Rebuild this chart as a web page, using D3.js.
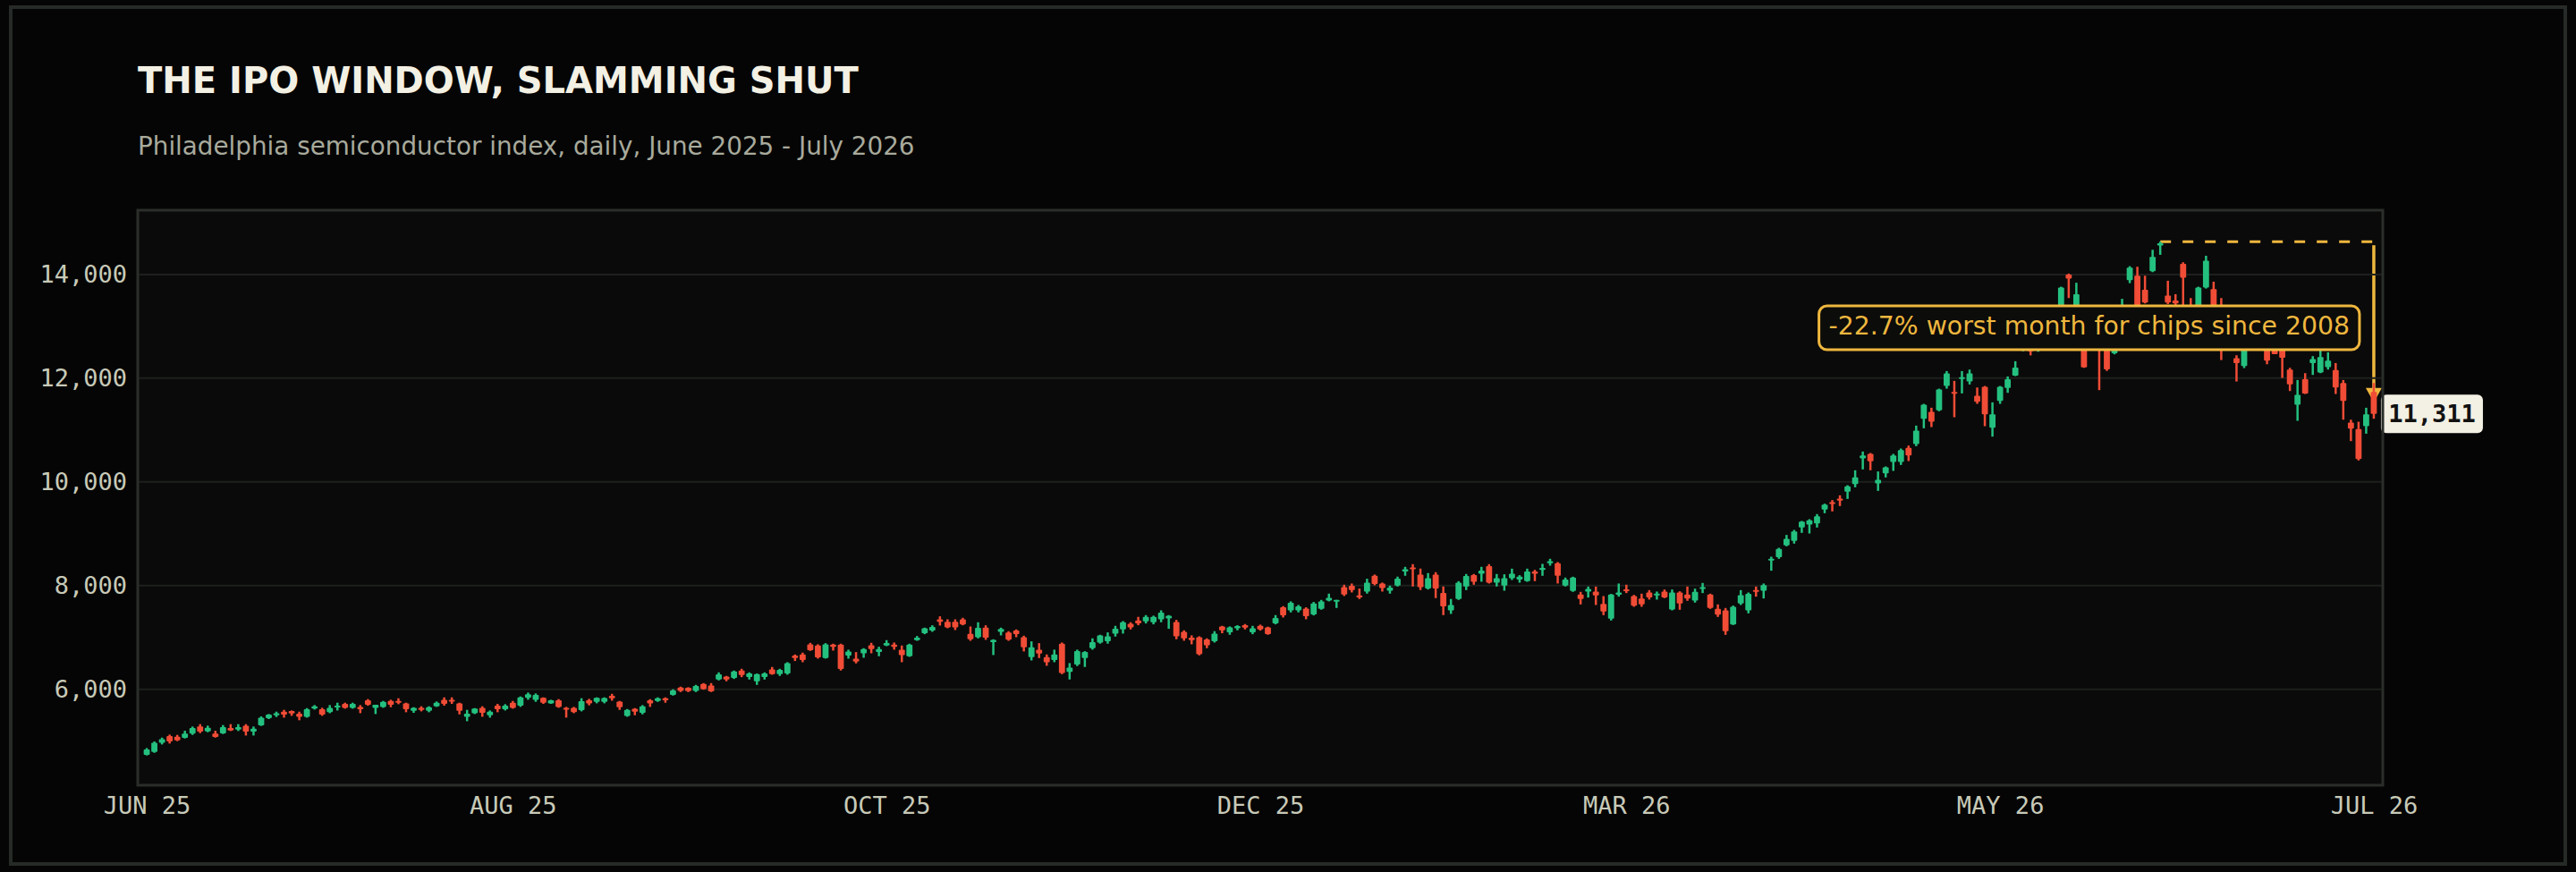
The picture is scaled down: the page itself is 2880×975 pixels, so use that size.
<!DOCTYPE html>
<html>
<head>
<meta charset="utf-8">
<script src="https://cdn.jsdelivr.net/npm/d3@7"></script>
<style>
  html, body { margin: 0; padding: 0; background: #050505; }
  svg { display: block; }
</style>
</head>
<body>
<div id="chart"></div>
<script>
// ---- DATA (one candle per trading day) ----
const openV = [
  4735,4793,4971,5098,5087,5063,5144,5282,5190,5144,
  5149,5253,5224,5299,5184,5305,5443,5500,5569,5581,
  5529,5471,5627,5615,5558,5650,5719,5644,5661,5788,
  5644,5661,5776,5776,5730,5586,5644,5586,5673,5799,
  5799,5730,5471,5540,5644,5500,5684,5615,5742,5684,
  5834,5799,5834,5730,5788,5644,5644,5598,5788,5759,
  5758,5873,5764,5488,5626,5546,5787,5776,5827,5891,
  6034,6028,5971,6103,6074,6189,6247,6218,6362,6235,
  6155,6235,6385,6293,6304,6649,6672,6868,6845,6603,
  6862,6862,6649,6592,6695,6850,6718,6845,6862,6764,
  6638,6948,7080,7132,7350,7304,7304,7350,7069,7005,
  7189,6908,7109,7097,7132,7005,6620,6764,6620,6563,
  6880,6334,6477,6604,6793,6902,6926,7075,7155,7264,
  7328,7310,7293,7351,7368,7299,7109,6994,7006,6960,
  6926,7213,7098,7178,7236,7098,7224,7196,7270,7581,
  7523,7523,7558,7443,7552,7713,7696,7971,7994,7811,
  7885,8190,8040,7902,7999,8270,8351,8213,7943,8213,
  7857,7523,7742,7983,8201,8230,8374,8058,8000,8143,
  8115,8086,8270,8304,8431,8431,8000,7896,7827,7885,
  7885,7649,7362,7822,7925,7798,7752,7867,7810,7885,
  7540,7867,7827,7712,7936,7827,7551,7523,7252,7655,
  7523,7913,7902,8488,8546,8775,8862,9120,9178,9201,
  9465,9609,9678,9810,9959,10454,10540,9971,10166,10385,
  10385,10655,10729,11218,11350,11379,11850,11735,11994,11936,
  11660,11833,11045,11563,11810,12051,12560,12950,12560,12950,
  13250,13100,14000,13350,12750,12620,13000,12700,12480,12950,
  13890,13976,13706,14062,14560,13591,13499,14206,13350,13200,
  13746,13718,13200,12900,12384,12235,12800,12650,12800,12700,
  12650,12166,11488,11982,12292,12109,12212,12155,11908,11143,
  11017,11074,11735
];
const highV = [
  4867,4994,5069,5127,5121,5201,5282,5328,5299,5201,
  5311,5328,5328,5328,5282,5477,5523,5569,5604,5592,
  5569,5638,5696,5644,5696,5742,5742,5742,5696,5811,
  5701,5776,5799,5828,5742,5655,5673,5673,5765,5845,
  5845,5742,5604,5638,5673,5592,5719,5713,5776,5862,
  5937,5920,5845,5799,5811,5661,5661,5828,5817,5845,
  5845,5913,5776,5620,5638,5695,5810,5845,5845,6000,
  6051,6040,6086,6120,6120,6327,6258,6362,6396,6327,
  6304,6327,6431,6396,6523,6672,6707,6896,6868,6890,
  6879,6879,6764,6718,6793,6896,6821,6948,6902,6844,
  6879,7028,7189,7235,7408,7350,7350,7379,7212,7293,
  7235,6965,7189,7120,7155,7034,6925,6890,6672,6765,
  6902,6506,6765,6736,6983,7052,7098,7224,7316,7293,
  7397,7431,7420,7523,7431,7339,7138,7040,7023,6983,
  7121,7224,7213,7236,7259,7224,7247,7207,7431,7604,
  7696,7627,7581,7684,7724,7845,7724,8017,8040,7943,
  8132,8213,8058,7999,8173,8362,8414,8328,8242,8259,
  7983,7742,8086,8224,8224,8362,8414,8224,8218,8327,
  8201,8327,8304,8419,8517,8454,8155,8172,7879,7982,
  7982,7798,7839,8040,8017,7821,7844,7913,7885,7925,
  7925,7890,7982,7942,8051,7844,7638,7569,7615,7913,
  7867,7982,8040,8557,8729,8977,9074,9247,9281,9379,
  9580,9649,9741,9936,10224,10586,10557,10201,10298,10540,
  10643,10701,11086,11505,11430,11798,12137,11948,12137,12166,
  11821,11850,11534,11850,12034,12327,13000,13050,13100,13300,
  13350,13764,14017,13840,12850,13100,13150,12800,13000,13530,
  14160,14149,13976,14476,14633,13879,13620,14235,13545,13764,
  14361,13861,13545,13050,12442,12850,12950,13100,12900,12800,
  12750,12200,11965,12097,12425,12540,12499,12292,11965,11200,
  11160,11430,11907
];
const lowV = [
  4724,4776,4937,4954,5000,5052,5121,5155,5173,5069,
  5138,5196,5196,5109,5109,5293,5426,5466,5454,5489,
  5403,5454,5610,5489,5540,5592,5627,5627,5540,5684,
  5523,5644,5655,5713,5558,5546,5575,5558,5661,5684,
  5719,5517,5385,5523,5471,5454,5558,5592,5627,5661,
  5799,5759,5719,5719,5644,5454,5540,5575,5690,5730,
  5730,5781,5603,5471,5500,5517,5661,5758,5741,5879,
  5948,5948,5948,5994,5948,6172,6155,6201,6235,6189,
  6086,6189,6281,6258,6281,6546,6523,6741,6592,6592,
  6747,6362,6592,6500,6609,6695,6638,6833,6764,6523,
  6626,6936,7063,7109,7230,7178,7143,7235,6936,6982,
  6954,6661,7040,6936,7005,6730,6557,6603,6454,6523,
  6293,6190,6448,6431,6765,6880,6880,7017,7075,7155,
  7236,7270,7253,7293,7167,6966,6937,6868,6655,6793,
  6902,7081,7052,7138,7155,7063,7132,7052,7253,7385,
  7483,7483,7351,7425,7535,7696,7569,7799,7868,7742,
  7845,8006,7885,7845,7983,8190,7983,7914,7925,7759,
  7431,7454,7724,7914,8017,8075,8040,7983,7902,8109,
  8057,8074,8086,8189,8385,8040,7983,7879,7637,7770,
  7626,7431,7327,7787,7856,7592,7592,7730,7730,7758,
  7523,7534,7707,7672,7856,7551,7396,7051,7241,7626,
  7465,7787,7752,8287,8517,8758,8810,9017,9005,9120,
  9396,9431,9534,9672,9896,10241,10224,9827,10086,10212,
  10327,10402,10689,11034,11057,11362,11798,11247,11706,11879,
  11505,11074,10873,11505,11718,12040,12520,12440,12510,12850,
  12950,13000,13545,13250,12200,12580,11770,12140,12460,12850,
  13833,13100,13442,14045,14379,13430,13350,13300,12950,13100,
  13729,13050,12350,12600,11936,12195,12600,12600,12269,12465,
  12005,11752,11178,11695,12063,12097,12166,11695,11200,10787,
  10413,10930,11218
];
const closeV = [
  4839,4971,5040,4994,5017,5144,5253,5184,5259,5081,
  5270,5207,5270,5184,5242,5454,5512,5540,5512,5535,
  5471,5615,5673,5512,5644,5684,5644,5719,5615,5701,
  5701,5759,5701,5742,5615,5644,5604,5655,5742,5719,
  5776,5586,5529,5627,5546,5569,5615,5684,5644,5845,
  5903,5891,5742,5788,5661,5627,5558,5770,5730,5834,
  5833,5827,5655,5603,5569,5672,5730,5827,5787,5977,
  5971,5965,6063,6005,5959,6287,6189,6345,6276,6304,
  6293,6304,6293,6373,6505,6603,6563,6753,6615,6868,
  6821,6390,6730,6534,6775,6775,6775,6891,6821,6661,
  6862,6994,7178,7201,7304,7195,7195,7252,6965,7184,
  6994,6954,7166,6959,7063,6810,6810,6689,6523,6673,
  6316,6420,6736,6719,6908,7040,7023,7167,7293,7196,
  7270,7397,7397,7477,7420,7023,6983,6948,6678,6851,
  7075,7138,7196,7219,7190,7178,7155,7063,7374,7425,
  7667,7598,7408,7655,7696,7765,7724,7828,7914,7770,
  8058,8029,7954,7960,8132,8316,8328,7971,8144,7943,
  7598,7627,8058,8184,8075,8288,8058,8144,8143,8230,
  8172,8270,8230,8339,8471,8189,8115,8155,7741,7936,
  7810,7500,7827,7867,7902,7614,7638,7770,7844,7770,
  7867,7655,7752,7879,7971,7569,7442,7120,7592,7816,
  7839,7896,8011,8517,8706,8902,9046,9235,9258,9339,
  9563,9592,9638,9913,10086,10511,10396,10040,10281,10511,
  10614,10511,10988,11488,11160,11781,12091,11718,12017,12091,
  11545,11304,11304,11833,11982,12206,12900,12520,12980,13200,
  13050,13746,13919,13620,12210,12950,12650,12170,12900,13300,
  14132,13250,13459,14338,14600,13459,13442,13936,13100,13746,
  14264,13150,12900,12700,12292,12750,12650,12950,12338,12465,
  12396,11879,11678,11706,12367,12407,12338,11821,11563,11028,
  10442,11304,11311
];

// x axis: labelled candle positions
const tickIdx = [0, 48, 97, 146, 194, 243, 292];
const tickLabels = ["JUN 25", "AUG 25", "OCT 25", "DEC 25", "MAR 26", "MAY 26", "JUL 26"];
const yTicks = [6000, 8000, 10000, 12000, 14000];

const titleText = "THE IPO WINDOW, SLAMMING SHUT";
const subtitleText = "Philadelphia semiconductor index, daily, June 2025 - July 2026";
const noteText = "-22.7% worst month for chips since 2008";

// ---- LAYOUT ----
const W = 2880, H = 975;
const plot = {left: 154, right: 2664, top: 235, bottom: 878};
const UP = "#24c07f", DOWN = "#f04c36", GOLD = "#efb73e";
const mono = "'DejaVu Sans Mono', monospace";
const sans = "'DejaVu Sans', sans-serif";

const candles = closeV.map((c, i) => ({i, o: openV[i], h: highV[i], l: lowV[i], c}));
const n = candles.length;

const svg = d3.select("#chart").append("svg")
    .attr("width", W).attr("height", H)
    .attr("viewBox", `0 0 ${W} ${H}`);

// khung ngoài
svg.append("rect")
    .attr("x", 12).attr("y", 8).attr("width", W - 24).attr("height", 958)
    .attr("fill", "#050505").attr("stroke", "#272b27").attr("stroke-width", 4);

// tiêu đề
svg.append("text").attr("x", plot.left).attr("y", 104)
    .attr("font-family", sans).attr("font-weight", "bold").attr("font-size", 40)
    .attr("fill", "#f3f0e4").text(titleText);
svg.append("text").attr("x", plot.left).attr("y", 173)
    .attr("font-family", sans).attr("font-size", 27.8)
    .attr("fill", "#a8aa9c").text(subtitleText);

// ---- SCALES ----
const x = d3.scalePoint().domain(d3.range(n)).range([plot.left, plot.right]).padding(1.18);
const step = x.step();
const bodyW = step * 0.8;
const y = d3.scaleLinear().domain([4150, 15240]).range([plot.bottom, plot.top]);

// nền vùng vẽ
svg.append("rect")
    .attr("x", plot.left).attr("y", plot.top)
    .attr("width", plot.right - plot.left).attr("height", plot.bottom - plot.top)
    .attr("fill", "#0a0a0a");

// ---- ANNOTATION LINES (peak -> last close) ----
const peakI = d3.maxIndex(highV);
const peak = highV[peakI];
const last = candles[n - 1];
const lx = x(last.i);

const ann = svg.append("g");
ann.append("line")
    .attr("x1", x(peakI)).attr("x2", lx)
    .attr("y1", y(peak)).attr("y2", y(peak))
    .attr("stroke", GOLD).attr("stroke-width", 3).attr("stroke-dasharray", "12,13");
ann.append("line")
    .attr("x1", lx).attr("x2", lx)
    .attr("y1", y(peak) + 4).attr("y2", y(last.c) - 26)
    .attr("stroke", GOLD).attr("stroke-width", 3.5);
ann.append("path")
    .attr("d", `M${lx - 9},${y(last.c) - 29} L${lx + 9},${y(last.c) - 29} L${lx},${y(last.c) - 13} Z`)
    .attr("fill", GOLD);

// lưới ngang
svg.append("g").selectAll("line").data(yTicks).enter().append("line")
    .attr("x1", plot.left).attr("x2", plot.right)
    .attr("y1", d => y(d)).attr("y2", d => y(d))
    .attr("stroke", "#1d201d").attr("stroke-width", 2);

// ---- CANDLES ----
const g = svg.append("g");
g.selectAll(".wick").data(candles).enter().append("line")
    .attr("class", "wick")
    .attr("x1", d => x(d.i)).attr("x2", d => x(d.i))
    .attr("y1", d => y(d.h)).attr("y2", d => y(d.l))
    .attr("stroke", d => d.c >= d.o ? UP : DOWN)
    .attr("stroke-width", 2.5);

g.selectAll(".body").data(candles).enter().append("rect")
    .attr("class", "body")
    .attr("x", d => x(d.i) - bodyW / 2)
    .attr("width", bodyW)
    .attr("y", d => y(Math.max(d.o, d.c)))
    .attr("height", d => Math.max(2, Math.abs(y(d.o) - y(d.c))))
    .attr("rx", 1)
    .attr("fill", d => d.c >= d.o ? UP : DOWN);

// ---- NOTE BOX (centered between peak and last close) ----
const midY = y((peak + last.c) / 2);
const note = svg.append("g");
const noteLabel = note.append("text")
    .attr("font-family", sans).attr("font-size", 28.3)
    .attr("fill", GOLD).attr("text-anchor", "middle")
    .text(noteText);
const tw = noteLabel.node().getComputedTextLength();
const boxW = tw + 22, boxH = 49;
const boxX = lx - 16 - boxW;
note.insert("rect", "text")
    .attr("x", boxX).attr("y", midY - boxH / 2)
    .attr("width", boxW).attr("height", boxH)
    .attr("rx", 9)
    .attr("fill", "#0c0c0a").attr("stroke", GOLD).attr("stroke-width", 3);
noteLabel.attr("x", boxX + boxW / 2).attr("y", midY + 8);

// nhãn giá cuối
const lbl = svg.append("g").attr("transform", `translate(${lx + 8},${y(last.c)})`);
lbl.append("rect")
    .attr("x", 0).attr("y", -21.5).attr("width", 114).attr("height", 43)
    .attr("rx", 6).attr("fill", "#f3f0e4");
lbl.append("text")
    .attr("x", 57).attr("y", 9.5)
    .attr("text-anchor", "middle")
    .attr("font-family", mono).attr("font-weight", "bold").attr("font-size", 27)
    .attr("fill", "#111111")
    .text(d3.format(",")(last.c));

// viền vùng vẽ
svg.append("rect")
    .attr("x", plot.left).attr("y", plot.top)
    .attr("width", plot.right - plot.left).attr("height", plot.bottom - plot.top)
    .attr("fill", "none").attr("stroke", "#2a2e2a").attr("stroke-width", 3);

// ---- AXES ----
const yAxis = svg.append("g")
    .attr("transform", `translate(${plot.left},0)`)
    .call(d3.axisLeft(y).tickValues(yTicks).tickFormat(d3.format(",")).tickSize(0).tickPadding(12));
yAxis.select(".domain").remove();
yAxis.selectAll("text")
    .attr("font-family", mono).attr("font-size", 27).attr("fill", "#c8cab8");

const xAxis = svg.append("g")
    .attr("transform", `translate(0,${plot.bottom})`)
    .call(d3.axisBottom(x).tickValues(tickIdx)
        .tickFormat(i => tickLabels[tickIdx.indexOf(i)]).tickSize(0).tickPadding(13));
xAxis.select(".domain").remove();
xAxis.selectAll("text")
    .attr("font-family", mono).attr("font-size", 27).attr("fill", "#c8cab8");
</script>
</body>
</html>
